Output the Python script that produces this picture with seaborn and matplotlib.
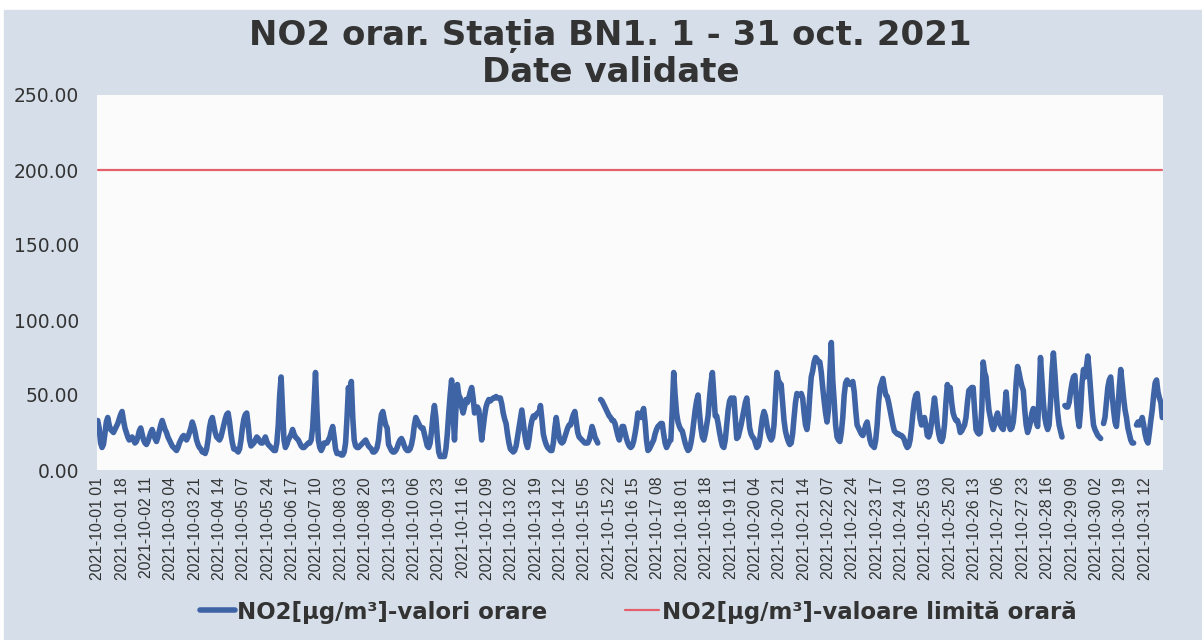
import matplotlib
matplotlib.use("Agg")
import matplotlib.pyplot as plt
from matplotlib.lines import Line2D
from matplotlib.patches import Rectangle
import numpy as np
import pandas as pd
import seaborn as sns

nan = np.nan

# hourly NO2 values (ug/m3), one row of 24 per day, 1 - 31 oct. 2021
no2_days = [
    [33, 28, 18, 15, 17, 24, 32, 35, 30, 27, 26, 25, 27, 29, 31, 34, 37, 39, 33, 28, 25, 22, 20, 21],
    [22, 20, 18, 19, 22, 26, 28, 24, 20, 18, 17, 19, 22, 25, 27, 24, 21, 19, 22, 26, 30, 33, 30, 27],
    [25, 22, 20, 18, 16, 15, 14, 13, 15, 18, 20, 22, 23, 22, 20, 22, 25, 28, 32, 29, 25, 20, 17, 15],
    [14, 12, 12, 11, 14, 20, 28, 33, 35, 30, 25, 22, 21, 20, 22, 26, 30, 34, 37, 38, 32, 24, 18, 14],
    [14, 13, 12, 14, 20, 28, 34, 37, 38, 30, 20, 16, 17, 18, 20, 22, 21, 19, 18, 18, 20, 22, 19, 17],
    [16, 15, 14, 13, 13, 18, 30, 50, 62, 40, 20, 15, 17, 20, 22, 24, 27, 24, 22, 21, 20, 18, 16, 15],
    [15, 16, 17, 18, 18, 20, 28, 45, 65, 40, 20, 15, 13, 15, 18, 18, 18, 20, 22, 26, 29, 22, 14, 11],
    [11, 11, 10, 10, 12, 18, 35, 55, 45, 59, 35, 20, 16, 15, 15, 16, 17, 18, 19, 20, 18, 16, 15, 14],
    [12, 12, 13, 15, 20, 30, 37, 39, 34, 30, 28, 17, 15, 13, 12, 12, 13, 15, 18, 20, 21, 19, 16, 14],
    [13, 13, 14, 17, 22, 30, 35, 33, 31, 29, 28, 28, 24, 20, 16, 15, 18, 26, 36, 43, 35, 22, 12, 9],
    [9, 9, 9, 14, 24, 38, 50, 60, 38, 20, 40, 57, 50, 48, 42, 38, 42, 47, 45, 48, 52, 55, 48, 38],
    [40, 42, 40, 30, 20, 28, 36, 42, 45, 47, 46, 47, 48, 48, 49, 48, 48, 48, 44, 38, 34, 31, 24, 18],
    [14, 13, 12, 13, 16, 22, 28, 34, 40, 32, 24, 18, 15, 20, 28, 33, 36, 35, 37, 38, 38, 43, 34, 24],
    [20, 17, 15, 14, 13, 13, 18, 28, 35, 28, 22, 19, 18, 19, 22, 25, 28, 30, 30, 34, 37, 39, 32, 25],
    [22, 21, 20, 19, 18, 18, 18, 20, 24, 29, 26, 22, 20, 18, nan, 47, 46, 44, 42, 40, 38, 36, 35, 33],
    [33, 31, 27, 23, 20, 24, 29, 29, 25, 21, 18, 16, 15, 16, 19, 24, 30, 38, 36, 35, 38, 41, 32, 20],
    [13, 14, 16, 18, 20, 24, 27, 29, 30, 31, 31, 24, 18, 15, 17, 19, 20, 40, 65, 50, 38, 32, 29, 27],
    [26, 22, 18, 15, 13, 14, 18, 24, 32, 40, 46, 50, 38, 28, 22, 20, 24, 30, 36, 48, 58, 65, 50, 36],
    [36, 31, 25, 20, 16, 15, 20, 30, 40, 46, 48, 47, 48, 35, 21, 22, 26, 30, 35, 40, 45, 48, 38, 28],
    [24, 22, 21, 18, 15, 16, 20, 28, 35, 39, 36, 30, 25, 22, 20, 22, 30, 48, 65, 60, 58, 57, 45, 33],
    [26, 22, 19, 17, 18, 24, 35, 45, 51, 50, 50, 51, 48, 38, 30, 27, 35, 50, 62, 66, 72, 75, 74, 72],
    [72, 65, 55, 46, 38, 32, 40, 65, 85, 60, 46, 30, 22, 20, 19, 25, 35, 50, 58, 60, 58, 57, 58, 59],
    [52, 40, 30, 28, 26, 24, 23, 26, 30, 32, 26, 20, 17, 16, 15, 20, 30, 45, 55, 58, 61, 55, 50, 49],
    [45, 40, 35, 30, 26, 25, 24, 24, 23, 23, 22, 20, 17, 15, 16, 20, 28, 38, 46, 50, 51, 42, 34, 30],
    [32, 35, 30, 23, 22, 25, 32, 40, 48, 40, 30, 24, 20, 19, 22, 30, 45, 57, 50, 55, 45, 38, 35, 33],
    [33, 30, 25, 26, 28, 30, 35, 45, 53, 54, 55, 55, 40, 27, 25, 24, 25, 40, 72, 65, 62, 50, 40, 35],
    [30, 27, 30, 35, 38, 34, 30, 28, 27, 40, 52, 40, 30, 27, 28, 32, 42, 58, 69, 65, 60, 56, 53, 40],
    [30, 25, 28, 32, 38, 41, 36, 32, 29, 50, 75, 60, 45, 35, 30, 27, 30, 45, 65, 78, 65, 50, 38, 30],
    [26, 22, nan, 43, 42, 42, 45, 52, 58, 62, 63, 48, 35, 29, 40, 58, 67, 62, 68, 76, 66, 53, 40, 30],
    [27, 25, 23, 22, 21, nan, 31, 35, 45, 55, 60, 62, 50, 40, 32, 29, 40, 55, 67, 58, 48, 40, 35, 28],
    [24, 20, 18, 18, nan, 30, 32, 30, 32, 35, 30, 24, 20, 18, 25, 33, 40, 50, 58, 60, 52, 48, 45, 35],
]
limit_value = 200.0

hour_labels = ["2021-10-%02d %02d" % (d, h) for d in range(1, 32) for h in range(1, 25)]
no2 = np.array(no2_days, dtype=float).ravel()

df = pd.DataFrame({"idx": np.arange(len(no2)), "ora": hour_labels, "no2": no2})
# split into segments so missing hours stay as gaps
df["seg"] = df["no2"].isna().cumsum()
df = df.dropna()
lim = pd.DataFrame({"idx": np.arange(len(no2)), "lim": limit_value})

bg = "#d6dfe9"
blue = "#3f64a6"
red = "#e3606c"
txt = "#333333"

sns.set_style("white")
plt.rcParams["font.family"] = ["DejaVu Sans"]

fig = plt.figure(figsize=(12.02, 6.4), dpi=100, facecolor="white")
fig.patches.append(Rectangle((4 / 1202, 0), 1, 630 / 640, transform=fig.transFigure,
                             color=bg, zorder=-5))
ax = fig.add_axes([97 / 1202, 1 - 470 / 640, (1163 - 97) / 1202, 375 / 640])
ax.set_facecolor("#fbfbfc")

sns.lineplot(data=lim, x="idx", y="lim", color=red, linewidth=1.6, ax=ax)
sns.lineplot(data=df, x="idx", y="no2", units="seg", estimator=None,
             color=blue, linewidth=4.0, ax=ax)

ax.set_xlim(-0.5, len(no2) - 0.5)
ax.set_ylim(0, 250)
ax.set_yticks([0, 50, 100, 150, 200, 250])
ax.set_yticklabels(["%.2f" % v for v in [0, 50, 100, 150, 200, 250]],
                   fontsize=13.5, color=txt)
tick_pos = list(range(0, len(no2), 17))
ax.set_xticks(tick_pos)
ax.set_xticklabels([hour_labels[i] for i in tick_pos], rotation=90,
                   fontsize=11.3, color=txt, family=["Liberation Sans", "DejaVu Sans"])
ax.tick_params(axis="y", length=0, pad=13)
ax.tick_params(axis="x", length=0, pad=5)
ax.set_xlabel("")
ax.set_ylabel("")
for s in ax.spines.values():
    s.set_visible(False)

fig.text(0.508, 1 - 36 / 640, "NO2 orar. Stația BN1. 1 - 31 oct. 2021",
         ha="center", va="center", fontsize=24.5, fontweight="bold", color=txt)
fig.text(0.508, 1 - 73 / 640, "Date validate",
         ha="center", va="center", fontsize=24.5, fontweight="bold", color=txt)

handles = [Line2D([], [], color=blue, linewidth=4.0),
           Line2D([], [], color=red, linewidth=1.6)]
labels = ["NO2[µg/m³]-valori orare", "NO2[µg/m³]-valoare limită orară"]
fig.legend(handles, labels, loc="center", bbox_to_anchor=(0.531, 1 - 612 / 640),
           ncol=2, frameon=False, handlelength=1.5, handletextpad=0.1,
           columnspacing=3.4, prop={"size": 16.5, "weight": "bold"}, labelcolor=txt)

fig.savefig("out.png", dpi=100, facecolor=fig.get_facecolor())
